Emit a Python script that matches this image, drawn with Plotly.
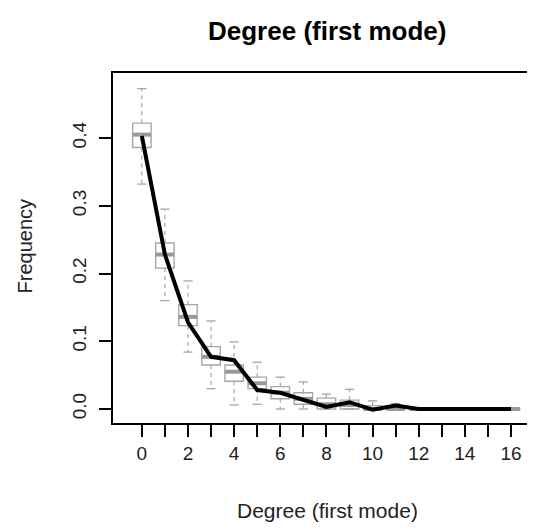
import plotly.graph_objects as go

degree = list(range(17))
observed = [0.403, 0.228, 0.128, 0.077, 0.072, 0.028, 0.024, 0.013, 0.003, 0.010, -0.001, 0.005, 0.0, 0.0, 0.0, 0.0, 0.0]
box_q1 = [0.386, 0.208, 0.123, 0.065, 0.041, 0.030, 0.015, 0.007, 0.000, 0.000, 0.000, 0.000, 0.0, 0.0, 0.0, 0.0, 0.0]
box_med = [0.405, 0.228, 0.136, 0.077, 0.055, 0.038, 0.024, 0.015, 0.007, 0.006, 0.000, 0.000, 0.0, 0.0, 0.0, 0.0, 0.0]
box_q3 = [0.422, 0.245, 0.154, 0.092, 0.065, 0.047, 0.033, 0.024, 0.016, 0.013, 0.005, 0.004, 0.0, 0.0, 0.0, 0.0, 0.0]
box_lo = [0.332, 0.160, 0.084, 0.030, 0.006, 0.007, 0.000, 0.000, 0.000, 0.000, 0.000, 0.000, 0.0, 0.0, 0.0, 0.0, 0.0]
box_hi = [0.473, 0.295, 0.189, 0.130, 0.099, 0.069, 0.047, 0.040, 0.022, 0.029, 0.012, 0.008, 0.0, 0.0, 0.0, 0.0, 0.0]
x_tick_text = [str(d) if d % 2 == 0 else "" for d in degree]
y_ticks = [0.0, 0.1, 0.2, 0.3, 0.4]

GRAY = "#a6a6a6"
FONT = "Liberation Sans, Arial, sans-serif"
BW = 0.8

fig = go.Figure()

# whiskers (dashed)
wx, wy = [], []
for d, q1, q3, lo, hi in zip(degree, box_q1, box_q3, box_lo, box_hi):
    wx += [d, d, None, d, d, None]
    wy += [q3, hi, None, q1, lo, None]
fig.add_trace(go.Scatter(x=wx, y=wy, mode="lines", line=dict(color=GRAY, width=1.2, dash="4px,4px"),
                         hoverinfo="skip", showlegend=False))
# caps
cx, cy = [], []
for d, lo, hi in zip(degree, box_lo, box_hi):
    cx += [d - BW / 4, d + BW / 4, None, d - BW / 4, d + BW / 4, None]
    cy += [hi, hi, None, lo, lo, None]
fig.add_trace(go.Scatter(x=cx, y=cy, mode="lines", line=dict(color=GRAY, width=1.3),
                         hoverinfo="skip", showlegend=False))

# boxes
fig.add_trace(go.Box(x=degree, q1=box_q1, median=box_med, q3=box_q3,
                     lowerfence=box_q1, upperfence=box_q3, width=BW, whiskerwidth=0,
                     line=dict(color=GRAY, width=1.4), fillcolor="white",
                     boxpoints=False, showlegend=False, hoverinfo="skip"))

# thick medians
mx, my = [], []
for d, m in zip(degree, box_med):
    mx += [d - BW / 2, d + BW / 2, None]
    my += [m, m, None]
fig.add_trace(go.Scatter(x=mx, y=my, mode="lines", line=dict(color="#999999", width=4),
                         hoverinfo="skip", showlegend=False))

# observed line
fig.add_trace(go.Scatter(x=degree, y=observed, mode="lines", line=dict(color="black", width=4),
                         showlegend=False))

# page has an 8px body margin: work in page pixels and convert
OFF = 8
W, H = 535 - OFF, 528 - OFF
L, R, T, B = 113, 531, 73, 423  # page pixel edges of plot area
pw, ph = R - L, B - T

def px(x):
    return (x - L) / pw

def py(y):
    return (B - y) / ph

fig.update_layout(
    width=W, height=H,
    margin=dict(l=L - OFF, r=W + OFF - R, t=T - OFF, b=H + OFF - B),
    paper_bgcolor="white", plot_bgcolor="white",
    font=dict(family=FONT, size=19, color="black"),
    xaxis=dict(range=[-1.25, 16.78], tickmode="array", tickvals=degree, ticktext=x_tick_text,
               ticks="outside", ticklen=12, tickwidth=1.5, tickcolor="black",
               showline=True, linecolor="black", linewidth=1.5, mirror=True,
               showgrid=False, zeroline=False, tickfont=dict(size=19, color="#222")),
    yaxis=dict(range=[-0.0207, 0.496], tickmode="array", tickvals=y_ticks,
               ticktext=[f"{v:.1f}" for v in y_ticks], tickangle=-90,
               ticks="outside", ticklen=12, tickwidth=1.5, tickcolor="black",
               showline=True, linecolor="black", linewidth=1.5, mirror=True,
               showgrid=False, zeroline=False, ticklabelstandoff=6,
               tickfont=dict(size=19, color="#222")),
    annotations=[
        dict(text="<b>Degree (first mode)</b>", xref="paper", yref="paper",
             x=px(328), y=py(31), xanchor="center", yanchor="middle",
             showarrow=False, font=dict(size=26, color="black")),
        dict(text="Degree (first mode)", xref="paper", yref="paper",
             x=px(329), y=py(510), xanchor="center", yanchor="middle",
             showarrow=False, font=dict(size=21, color="#222")),
        dict(text="Frequency", xref="paper", yref="paper", textangle=-90,
             x=px(25), y=py(246), xanchor="center", yanchor="middle",
             showarrow=False, font=dict(size=20, color="#222")),
    ],
)

fig.write_html("out.html")
